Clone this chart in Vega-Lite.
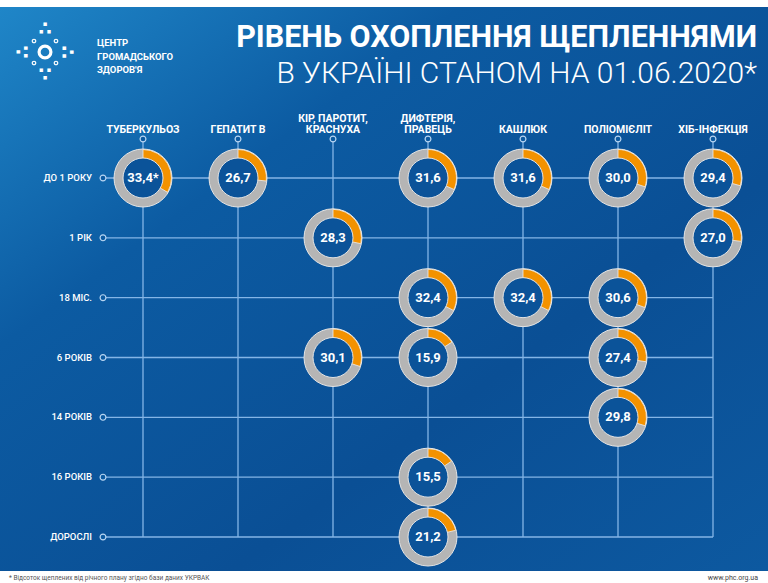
{
  "$schema": "https://vega.github.io/schema/vega-lite/v6.json",
  "width": 768,
  "height": 564,
  "autosize": {"type": "none"},
  "padding": {"top": 7, "bottom": 12, "left": 0, "right": 0},
  "background": "#ffffff",
  "config": {"view": {"stroke": null}, "axis": {"disable": true}, "font": "Roboto"},
  "title": {
    "text": "РІВЕНЬ ОХОПЛЕННЯ ЩЕПЛЕННЯМИ",
    "subtitle": "В УКРАЇНІ СТАНОМ НА 01.06.2020*",
    "anchor": "end",
    "orient": "top",
    "frame": "group",
    "offset": -82,
    "dx": -11,
    "font": "Roboto",
    "fontSize": 30.5,
    "fontWeight": "bold",
    "color": "#ffffff",
    "subtitleFont": "Roboto",
    "subtitleFontSize": 30,
    "subtitleFontWeight": 300,
    "subtitleColor": "#ffffff",
    "subtitlePadding": 5
  },
  "datasets": {
    "cells": [
      {"vaccine": "ТУБЕРКУЛЬОЗ", "age": "ДО 1 РОКУ", "value": 33.4, "label": "33,4*"},
      {"vaccine": "ГЕПАТИТ В", "age": "ДО 1 РОКУ", "value": 26.7, "label": "26,7"},
      {"vaccine": "КІР, ПАРОТИТ, КРАСНУХА", "age": "1 РІК", "value": 28.3, "label": "28,3"},
      {"vaccine": "КІР, ПАРОТИТ, КРАСНУХА", "age": "6 РОКІВ", "value": 30.1, "label": "30,1"},
      {"vaccine": "ДИФТЕРІЯ, ПРАВЕЦЬ", "age": "ДО 1 РОКУ", "value": 31.6, "label": "31,6"},
      {"vaccine": "ДИФТЕРІЯ, ПРАВЕЦЬ", "age": "18 МІС.", "value": 32.4, "label": "32,4"},
      {"vaccine": "ДИФТЕРІЯ, ПРАВЕЦЬ", "age": "6 РОКІВ", "value": 15.9, "label": "15,9"},
      {"vaccine": "ДИФТЕРІЯ, ПРАВЕЦЬ", "age": "16 РОКІВ", "value": 15.5, "label": "15,5"},
      {"vaccine": "ДИФТЕРІЯ, ПРАВЕЦЬ", "age": "ДОРОСЛІ", "value": 21.2, "label": "21,2"},
      {"vaccine": "КАШЛЮК", "age": "ДО 1 РОКУ", "value": 31.6, "label": "31,6"},
      {"vaccine": "КАШЛЮК", "age": "18 МІС.", "value": 32.4, "label": "32,4"},
      {"vaccine": "ПОЛІОМІЄЛІТ", "age": "ДО 1 РОКУ", "value": 30.0, "label": "30,0"},
      {"vaccine": "ПОЛІОМІЄЛІТ", "age": "18 МІС.", "value": 30.6, "label": "30,6"},
      {"vaccine": "ПОЛІОМІЄЛІТ", "age": "6 РОКІВ", "value": 27.4, "label": "27,4"},
      {"vaccine": "ПОЛІОМІЄЛІТ", "age": "14 РОКІВ", "value": 29.8, "label": "29,8"},
      {"vaccine": "ХІБ-ІНФЕКЦІЯ", "age": "ДО 1 РОКУ", "value": 29.4, "label": "29,4"},
      {"vaccine": "ХІБ-ІНФЕКЦІЯ", "age": "1 РІК", "value": 27.0, "label": "27,0"}
    ],
    "vaccines": [
      {"vaccine": "ТУБЕРКУЛЬОЗ", "line1": "", "line2": "ТУБЕРКУЛЬОЗ"},
      {"vaccine": "ГЕПАТИТ В", "line1": "", "line2": "ГЕПАТИТ В"},
      {"vaccine": "КІР, ПАРОТИТ, КРАСНУХА", "line1": "КІР, ПАРОТИТ,", "line2": "КРАСНУХА"},
      {"vaccine": "ДИФТЕРІЯ, ПРАВЕЦЬ", "line1": "ДИФТЕРІЯ,", "line2": "ПРАВЕЦЬ"},
      {"vaccine": "КАШЛЮК", "line1": "", "line2": "КАШЛЮК"},
      {"vaccine": "ПОЛІОМІЄЛІТ", "line1": "", "line2": "ПОЛІОМІЄЛІТ"},
      {"vaccine": "ХІБ-ІНФЕКЦІЯ", "line1": "", "line2": "ХІБ-ІНФЕКЦІЯ"}
    ],
    "ages": [
      {"age": "ДО 1 РОКУ"},
      {"age": "1 РІК"},
      {"age": "18 МІС."},
      {"age": "6 РОКІВ"},
      {"age": "14 РОКІВ"},
      {"age": "16 РОКІВ"},
      {"age": "ДОРОСЛІ"}
    ]
  },
  "layer": [
    {
      "data": {"values": [{}]},
      "mark": {
        "type": "rect",
        "fill": {
          "gradient": "linear", "x1": 0, "y1": 0, "x2": 1, "y2": 1,
          "stops": [
            {"offset": 0, "color": "#1f86c8"},
            {"offset": 0.3, "color": "#0c5ba2"},
            {"offset": 0.65, "color": "#0a4f95"},
            {"offset": 1, "color": "#0d59a0"}
          ]
        }
      },
      "encoding": {"x": {"value": 0}, "x2": {"value": "width"}, "y": {"value": 0}, "y2": {"value": "height"}}
    },
    {
      "data": {"name": "ages"},
      "mark": {"type": "rule", "xOffset": -40, "color": "#84b5e6", "strokeWidth": 1.3},
      "encoding": {
        "y": {"field": "age", "type": "nominal", "axis": null, "scale": {"type": "point", "domain": ["ДО 1 РОКУ", "1 РІК", "18 МІС.", "6 РОКІВ", "14 РОКІВ", "16 РОКІВ", "ДОРОСЛІ"], "range": [171, 530], "padding": 0}},
        "x": {"datum": "ТУБЕРКУЛЬОЗ", "type": "nominal", "axis": null, "scale": {"type": "point", "domain": ["ТУБЕРКУЛЬОЗ", "ГЕПАТИТ В", "КІР, ПАРОТИТ, КРАСНУХА", "ДИФТЕРІЯ, ПРАВЕЦЬ", "КАШЛЮК", "ПОЛІОМІЄЛІТ", "ХІБ-ІНФЕКЦІЯ"], "range": [143, 713], "padding": 0}},
        "x2": {"datum": "ХІБ-ІНФЕКЦІЯ"}
      }
    },
    {
      "data": {"name": "vaccines"},
      "mark": {"type": "rule", "yOffset": -39, "color": "#84b5e6", "strokeWidth": 1.3},
      "encoding": {
        "x": {"field": "vaccine", "type": "nominal", "axis": null},
        "y": {"datum": "ДО 1 РОКУ", "type": "nominal", "axis": null},
        "y2": {"datum": "ДОРОСЛІ"}
      }
    },
    {
      "data": {"name": "vaccines"},
      "mark": {"type": "circle", "yOffset": -39, "size": 34, "fill": "#0c5aa1", "fillOpacity": 1, "stroke": "#b9d6f2", "strokeWidth": 1.2},
      "encoding": {
        "x": {"field": "vaccine", "type": "nominal", "axis": null},
        "y": {"datum": "ДО 1 РОКУ", "type": "nominal", "axis": null}
      }
    },
    {
      "data": {"name": "vaccines"},
      "mark": {"type": "text", "yOffset": -43, "baseline": "bottom", "align": "center", "fontSize": 10.5, "fontWeight": "bold", "font": "Roboto", "color": "#ffffff"},
      "encoding": {
        "x": {"field": "vaccine", "type": "nominal", "axis": null},
        "y": {"datum": "ДО 1 РОКУ", "type": "nominal", "axis": null},
        "text": {"field": "line2"}
      }
    },
    {
      "data": {"name": "vaccines"},
      "mark": {"type": "text", "yOffset": -54.5, "baseline": "bottom", "align": "center", "fontSize": 10.5, "fontWeight": "bold", "font": "Roboto", "color": "#ffffff"},
      "encoding": {
        "x": {"field": "vaccine", "type": "nominal", "axis": null},
        "y": {"datum": "ДО 1 РОКУ", "type": "nominal", "axis": null},
        "text": {"field": "line1"}
      }
    },
    {
      "data": {"name": "ages"},
      "mark": {"type": "circle", "xOffset": -40, "size": 34, "fill": "#0c5aa1", "fillOpacity": 1, "stroke": "#b9d6f2", "strokeWidth": 1.2},
      "encoding": {
        "y": {"field": "age", "type": "nominal", "axis": null},
        "x": {"datum": "ТУБЕРКУЛЬОЗ", "type": "nominal", "axis": null}
      }
    },
    {
      "data": {"name": "ages"},
      "mark": {"type": "text", "xOffset": -51, "align": "right", "baseline": "middle", "fontSize": 9.5, "fontWeight": 500, "font": "Roboto", "color": "#ffffff"},
      "encoding": {
        "y": {"field": "age", "type": "nominal", "axis": null},
        "x": {"datum": "ТУБЕРКУЛЬОЗ", "type": "nominal", "axis": null},
        "text": {"field": "age"}
      }
    },
    {
      "data": {"name": "cells"},
      "mark": {"type": "arc", "radius": 29, "radius2": 0, "theta": 0, "theta2": 6.2832, "fill": "#b5b5b5", "stroke": "#e4e4e4", "strokeWidth": 1},
      "encoding": {
        "x": {"field": "vaccine", "type": "nominal", "axis": null},
        "y": {"field": "age", "type": "nominal", "axis": null}
      }
    },
    {
      "data": {"name": "cells"},
      "mark": {"type": "arc", "radius": 28.5, "radius2": 0, "fill": "#f39200", "stroke": "#eeeeee", "strokeWidth": 0.8},
      "encoding": {
        "x": {"field": "vaccine", "type": "nominal", "axis": null},
        "y": {"field": "age", "type": "nominal", "axis": null},
        "theta": {"field": "value", "type": "quantitative", "stack": null, "scale": {"domain": [0, 100], "range": [0, 6.2832]}}
      }
    },
    {
      "data": {"name": "cells"},
      "mark": {"type": "arc", "radius": 20, "radius2": 0, "theta": 0, "theta2": 6.2832, "fill": "#0b5399", "stroke": "#e4e4e4", "strokeWidth": 1},
      "encoding": {
        "x": {"field": "vaccine", "type": "nominal", "axis": null},
        "y": {"field": "age", "type": "nominal", "axis": null}
      }
    },
    {
      "data": {"name": "cells"},
      "mark": {"type": "text", "align": "center", "baseline": "middle", "fontSize": 13, "fontWeight": "bold", "font": "Roboto", "color": "#ffffff"},
      "encoding": {
        "x": {"field": "vaccine", "type": "nominal", "axis": null},
        "y": {"field": "age", "type": "nominal", "axis": null},
        "text": {"field": "label"}
      }
    },
    {
      "data": {"values": [{"org": "ЦЕНТР\nГРОМАДСЬКОГО\nЗДОРОВ'Я"}]},
      "mark": {"type": "text", "x": 97, "y": 39, "align": "left", "baseline": "alphabetic", "lineBreak": "\n", "lineHeight": 13.5, "fontSize": 9.5, "fontWeight": "bold", "font": "Roboto", "color": "#ffffff"},
      "encoding": {"text": {"field": "org"}}
    },
    {
      "data": {"values": [{}]},
      "mark": {"type": "rule", "x": 90, "y": 27, "y2": 72, "color": "#a9c9ea", "strokeWidth": 1},
      "encoding": {}
    },
    {
      "data": {"values": [{}]},
      "mark": {"type": "circle", "x": 45, "y": 45, "size": 140, "fillOpacity": 0, "stroke": "#ffffff", "strokeWidth": 3.2},
      "encoding": {}
    },
    {
      "data": {"values": [{}]},
      "mark": {"type": "circle", "x": 34, "y": 34, "size": 12, "fillOpacity": 0, "stroke": "#ffffff", "strokeWidth": 1.2},
      "encoding": {}
    },
    {
      "data": {"values": [{}]},
      "mark": {"type": "circle", "x": 56, "y": 34, "size": 12, "fillOpacity": 0, "stroke": "#ffffff", "strokeWidth": 1.2},
      "encoding": {}
    },
    {
      "data": {"values": [{}]},
      "mark": {"type": "circle", "x": 34, "y": 56, "size": 12, "fillOpacity": 0, "stroke": "#ffffff", "strokeWidth": 1.2},
      "encoding": {}
    },
    {
      "data": {"values": [{}]},
      "mark": {"type": "circle", "x": 56, "y": 56, "size": 12, "fillOpacity": 0, "stroke": "#ffffff", "strokeWidth": 1.2},
      "encoding": {}
    },
    {
      "data": {"values": [{"g": "∴"}]},
      "mark": {"type": "text", "x": 45, "y": 22, "align": "center", "baseline": "middle", "fontSize": 19, "fontWeight": "bold", "font": "DejaVu Sans", "color": "#ffffff"},
      "encoding": {"text": {"field": "g"}}
    },
    {
      "data": {"values": [{"g": "∵"}]},
      "mark": {"type": "text", "x": 45, "y": 68, "align": "center", "baseline": "middle", "fontSize": 19, "fontWeight": "bold", "font": "DejaVu Sans", "color": "#ffffff"},
      "encoding": {"text": {"field": "g"}}
    },
    {
      "data": {"values": [{"g": "∴"}]},
      "mark": {"type": "text", "x": 23, "y": 45, "angle": 270, "align": "center", "baseline": "middle", "fontSize": 19, "fontWeight": "bold", "font": "DejaVu Sans", "color": "#ffffff"},
      "encoding": {"text": {"field": "g"}}
    },
    {
      "data": {"values": [{"g": "∴"}]},
      "mark": {"type": "text", "x": 67, "y": 45, "angle": 90, "align": "center", "baseline": "middle", "fontSize": 19, "fontWeight": "bold", "font": "DejaVu Sans", "color": "#ffffff"},
      "encoding": {"text": {"field": "g"}}
    },
    {
      "data": {"values": [{"note": "* Відсоток щеплених від річного плану згідно бази даних УКРВАК"}]},
      "mark": {"type": "text", "x": 9, "y": 571, "align": "left", "baseline": "middle", "fontSize": 6.5, "font": "Roboto", "color": "#555555"},
      "encoding": {"text": {"field": "note"}}
    },
    {
      "data": {"values": [{"site": "www.phc.org.ua"}]},
      "mark": {"type": "text", "x": 758, "y": 571, "align": "right", "baseline": "middle", "fontSize": 7, "font": "Roboto", "color": "#444444"},
      "encoding": {"text": {"field": "site"}}
    }
  ]
}
